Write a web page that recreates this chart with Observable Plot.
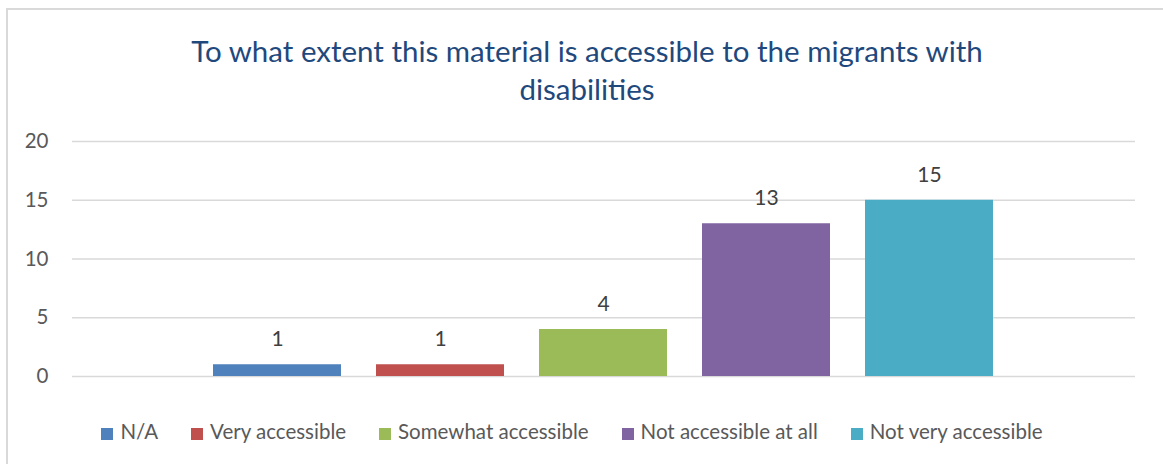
<!DOCTYPE html>
<html>
<head>
<meta charset="utf-8">
<script src="https://cdn.jsdelivr.net/npm/d3@7"></script>
<script src="https://cdn.jsdelivr.net/npm/@observablehq/plot@0.6"></script>
<style>
  html, body { margin: 0; padding: 0; background: #fff; }
  #wrap { position: relative; width: 1163px; height: 464px; overflow: hidden; font-family: Lato, "Open Sans", sans-serif; }
  #frame { position: absolute; left: 6px; top: 8px; width: 1200px; height: 500px; border-left: 2px solid #d9d9d9; border-top: 2px solid #d9d9d9; }
  #title { position: absolute; left: 0; width: 1174px; top: 32px; text-align: center; color: #1F497D; font-size: 29.5px; line-height: 38px; }
  #chart { position: absolute; left: 0; top: 120px; }
  #legend { position: absolute; left: 0; width: 1144px; top: 419px; text-align: center; font-size: 20.5px; color: #595959; line-height: 24px; white-space: nowrap; }
  .item { display: inline-block; margin: 0 16.5px; }
  .sw { display: inline-block; width: 12px; height: 12px; margin-right: 7px; vertical-align: -1px; }
</style>
</head>
<body>
<div id="wrap">
  <div id="frame"></div>
  <div id="title"></div>
  <div id="chart"></div>
  <div id="legend"></div>
</div>
<script>
const titleLines = ["To what extent this material is accessible to the migrants with", "disabilities"];
const categories = ["N/A", "Very accessible", "Somewhat accessible", "Not accessible at all", "Not very accessible"];
const values = [1, 1, 4, 13, 15];
const colors = ["#4F81BD", "#C0504D", "#9BBB59", "#8064A2", "#4BACC6"];
const yTicks = [0, 5, 10, 15, 20];

document.getElementById("title").innerHTML = titleLines.map(t => `<div>${t}</div>`).join("");

const data = categories.map((c, i) => ({category: c, value: values[i]}));

const plot = Plot.plot({
  width: 1163,
  height: 270,
  marginLeft: 72,
  marginRight: 28,
  marginTop: 21,
  marginBottom: 14,
  style: { fontFamily: "Lato, 'Open Sans', sans-serif", fontSize: "20px", color: "#595959", background: "transparent" },
  x: { domain: categories, paddingInner: 0.2134, paddingOuter: 0.8476, axis: null },
  y: { domain: [0, 20], ticks: yTicks, label: null },
  color: { domain: categories, range: colors },
  marks: [
    Plot.gridY(yTicks, { stroke: "#d9d9d9", strokeOpacity: 1, strokeWidth: 1.5 }),
    Plot.axisY(yTicks, { tickSize: 0, tickPadding: 24, fontSize: 20.5, fill: "#595959", label: null }),
    Plot.barY(data, { x: "category", y: "value", fill: "category" }),
    Plot.text(data, { x: "category", y: "value", text: d => String(d.value), dy: -25, fill: "#404040", fontSize: 21 })
  ]
});
document.getElementById("chart").appendChild(plot);

document.getElementById("legend").innerHTML = categories.map((c, i) =>
  `<span class="item"><span class="sw" style="background:${colors[i]}"></span>${c}</span>`).join("");
</script>
</body>
</html>
